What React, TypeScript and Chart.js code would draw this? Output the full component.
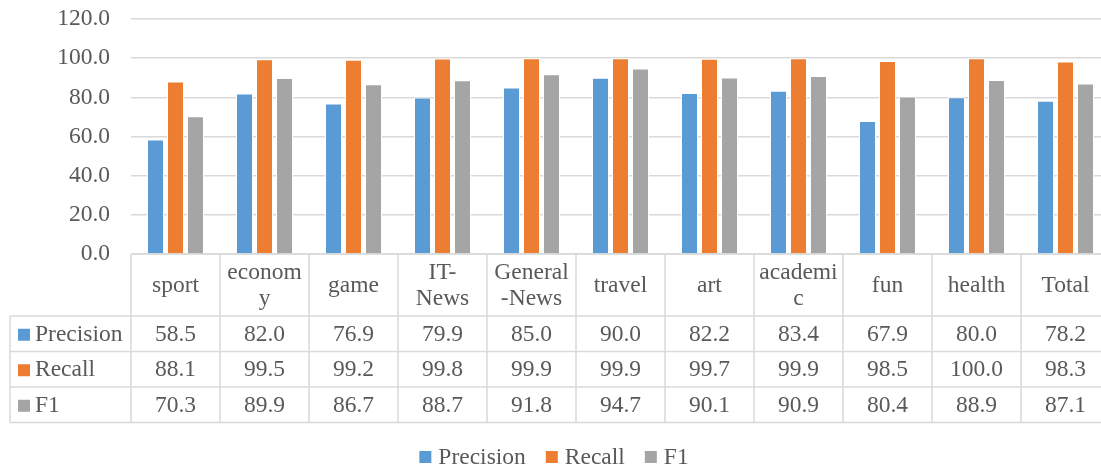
import React, { useEffect, useRef } from "react";
import { Chart, registerables } from "chart.js";

Chart.register(...registerables);

const categories = ["sport", "economy", "game", "IT-News", "General-News", "travel", "art", "academic", "fun", "health", "Total"];
const categoryLabelLines = [["sport"], ["econom", "y"], ["game"], ["IT-", "News"], ["General", "-News"], ["travel"], ["art"], ["academi", "c"], ["fun"], ["health"], ["Total"]];
const precision = [58.5, 82.0, 76.9, 79.9, 85.0, 90.0, 82.2, 83.4, 67.9, 80.0, 78.2];
const recall = [88.1, 99.5, 99.2, 99.8, 99.9, 99.9, 99.7, 99.9, 98.5, 100.0, 98.3];
const f1 = [70.3, 89.9, 86.7, 88.7, 91.8, 94.7, 90.1, 90.9, 80.4, 88.9, 87.1];
const seriesNames = ["Precision", "Recall", "F1"];
const seriesColors = ["#5B9BD5", "#ED7D31", "#A5A5A5"];
const yMin = 0;
const yMax = 120;
const yStep = 20;

const FONT = "'Liberation Serif', 'Times New Roman', serif";
const FONT_SIZE = 23.5;
const TEXT = "#595959";
const GRID = "#D9D9D9";

const tablePlugin = {
  id: "dataTable",
  afterDraw(chart: any) {
    const { ctx, chartArea, scales } = chart;
    const x = scales.x;
    const series = [precision, recall, f1];
    const n = categories.length;
    const colW = x.getPixelForValue(1) - x.getPixelForValue(0);
    const top = chartArea.bottom;
    const catBottom = top + 62;
    const rowH = 35.5;
    const rowTops = [catBottom, catBottom + rowH, catBottom + 2 * rowH, catBottom + 3 * rowH];
    const tableBottom = catBottom + 3 * rowH;
    const outerLeft = 10;
    const rightEdge = chart.width;

    ctx.save();
    ctx.strokeStyle = GRID;
    ctx.lineWidth = 1.5;
    ctx.beginPath();
    ctx.moveTo(chartArea.left, top);
    ctx.lineTo(rightEdge, top);
    for (const ry of rowTops) {
      ctx.moveTo(outerLeft, ry);
      ctx.lineTo(rightEdge, ry);
    }
    ctx.moveTo(outerLeft, catBottom);
    ctx.lineTo(outerLeft, tableBottom);
    for (let i = 0; i <= n; i++) {
      const bx = x.getPixelForValue(i) - colW / 2;
      ctx.moveTo(bx, top);
      ctx.lineTo(bx, tableBottom);
    }
    ctx.stroke();

    ctx.fillStyle = TEXT;
    ctx.font = `${FONT_SIZE}px ${FONT}`;
    ctx.textAlign = "center";
    ctx.textBaseline = "middle";
    const catMid = (top + catBottom) / 2 + 1;
    const lh = 26;
    for (let i = 0; i < n; i++) {
      const cx = x.getPixelForValue(i);
      const lines = categoryLabelLines[i];
      lines.forEach((ln, k) => {
        const yy = catMid + (k - (lines.length - 1) / 2) * lh;
        ctx.fillText(ln, cx, yy);
      });
      series.forEach((s, r) => {
        const yy = rowTops[r] + rowH / 2 + 1;
        ctx.fillText(s[i].toFixed(1), cx, yy);
      });
    }

    ctx.textAlign = "left";
    series.forEach((_, r) => {
      const yy = rowTops[r] + rowH / 2 + 1;
      ctx.fillStyle = seriesColors[r];
      ctx.fillRect(18, yy - 6, 12, 12);
      ctx.fillStyle = TEXT;
      ctx.fillText(seriesNames[r], 35, yy);
    });

    // legend
    const box = 12;
    const gapIn = 7;
    const gapOut = 20;
    const widths = seriesNames.map((s) => box + gapIn + ctx.measureText(s).width);
    const total = widths.reduce((a, b) => a + b, 0) + gapOut * (widths.length - 1);
    let lx = 554 - total / 2;
    const ly = 457;
    seriesNames.forEach((s, r) => {
      ctx.fillStyle = seriesColors[r];
      ctx.fillRect(lx, ly - 6, box, box);
      ctx.fillStyle = TEXT;
      ctx.fillText(s, lx + box + gapIn, ly + 1);
      lx += widths[r] + gapOut;
    });
    ctx.restore();
  },
};

export default function App() {
  const ref = useRef<HTMLCanvasElement>(null);
  useEffect(() => {
    const canvas = ref.current!;
    const chart = new Chart(canvas, {
      type: "bar",
      data: {
        labels: categories,
        datasets: [precision, recall, f1].map((d, i) => ({
          label: seriesNames[i],
          data: d,
          backgroundColor: seriesColors[i],
          borderColor: "#FFFFFF",
          borderWidth: 1,
          barPercentage: 0.85,
          categoryPercentage: 0.674,
        })),
      },
      options: {
        animation: false,
        responsive: false,
        maintainAspectRatio: false,
        layout: { padding: { top: 19, bottom: 214, left: 0, right: 2 } },
        plugins: { legend: { display: false }, tooltip: { enabled: false } },
        scales: {
          x: { display: false },
          y: {
            min: yMin,
            max: yMax,
            afterFit: (s: any) => {
              s.width = 131;
              s.paddingTop = 0;
              s.paddingBottom = 0;
            },
            ticks: {
              stepSize: yStep,
              padding: 21,
              color: TEXT,
              font: { family: FONT, size: FONT_SIZE },
              callback: (v: any) => Number(v).toFixed(1),
            },
            grid: { color: GRID, lineWidth: 1.5, drawTicks: false },
            border: { display: false },
          },
        },
      },
      plugins: [tablePlugin],
    });
    return () => chart.destroy();
  }, []);
  return (
    <div style={{ position: "fixed", left: 0, top: 0, width: 1101, height: 468, overflow: "hidden", background: "#fff" }}>
      <canvas ref={ref} width={1112} height={468} style={{ display: "block" }} />
    </div>
  );
}
